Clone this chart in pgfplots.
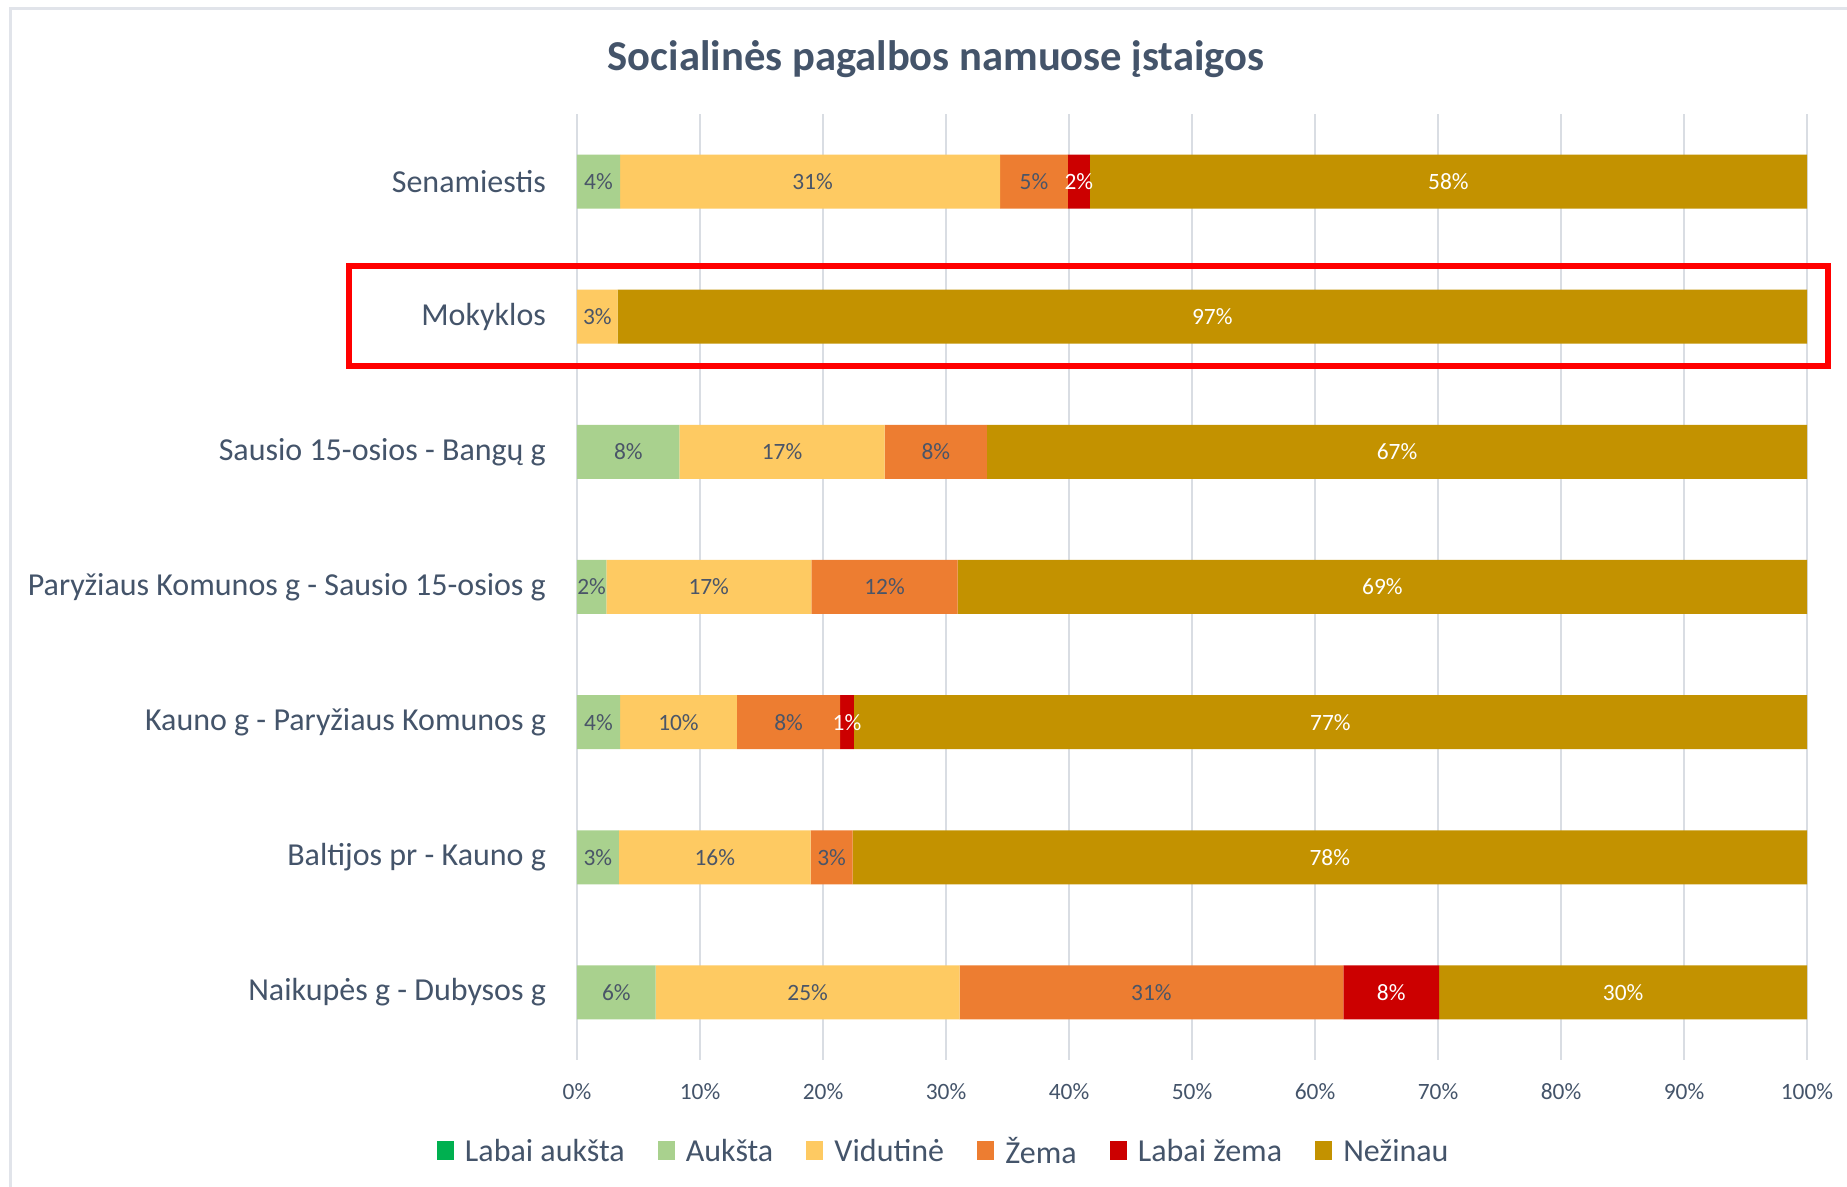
\documentclass[border=0pt]{standalone}
\usepackage{pgfplots}
\pgfplotsset{compat=1.18}
\usepackage{pgfplotstable}
\usepackage{fontspec}
\setmainfont{Carlito}
\definecolor{txt}{HTML}{44546A}
\definecolor{lbl}{HTML}{4A5568}
\definecolor{cGrid}{HTML}{D9DDE3}
\definecolor{cLA}{HTML}{00B050}
\definecolor{cA}{HTML}{A9D18E}
\definecolor{cV}{HTML}{FECA62}
\definecolor{cZ}{HTML}{ED7D31}
\definecolor{cLZ}{HTML}{CC0000}
\definecolor{cN}{HTML}{C39200}
\definecolor{cFrame}{HTML}{E1E4EA}

% y: 6 = Senamiestis (top) ... 0 = Naikupes (bottom)
\pgfplotstableread{
y  LA  A     V     Z     LZ   N
6  0   3.5   30.9  5.5   1.8  58.3
5  0   0     3.3   0     0    96.7
4  0   8.33  16.67 8.33  0    66.67
3  0   2.38  16.67 11.90 0    69.05
2  0   3.5   9.5   8.4   1.1  77.5
1  0   3.4   15.6  3.4   0    77.6
0  0   6.4   24.7  31.2  7.8  29.9
}\data

\tikzset{dl/.style={font=\fontsize{11.7}{14}\selectfont, text=lbl}, dw/.style={font=\fontsize{11.7}{14}\selectfont, text=white}}

\begin{document}
\begin{tikzpicture}[x=1pt,y=1pt]
\useasboundingbox (0,0) rectangle (923.5,593.5);
\fill[white] (0,0) rectangle (923.5,593.5);
\draw[cFrame, line width=1.5pt] (5,0) -- (5,589) -- (923.5,589);
\node[font=\fontsize{21.3}{25}\selectfont\bfseries, text=txt] at (468,563.7) {Socialinės pagalbos namuose įstaigos};
\begin{axis}[
  at={(288.5pt,63.5pt)}, anchor=south west,
  scale only axis, width=615pt, height=473pt,
  xbar stacked, bar width=27pt,
  xmin=0, xmax=100, ymin=-0.5, ymax=6.5,
  xtick={0,10,...,100},
  xticklabel={\pgfmathprintnumber{\tick}\%},
  xticklabel style={font=\fontsize{11.7}{14}\selectfont, text=txt, yshift=-8.4pt},
  /pgf/number format/assume math mode=true,
  ytick={0,...,6},
  yticklabels={Naikupės g - Dubysos g, Baltijos pr - Kauno g, Kauno g - Paryžiaus Komunos g, Paryžiaus Komunos g - Sausio 15-osios g, Sausio 15-osios - Bangų g, Mokyklos, Senamiestis},
  yticklabel style={font=\fontsize{16}{19}\selectfont, text=txt, xshift=-12pt},
  xmajorgrids, grid style={draw=cGrid, line width=1.2pt},
  axis line style={draw=none}, tick style={draw=none},
  legend columns=6,
  legend style={at={(0.299,-0.097)}, anchor=center, draw=none, fill=none,
    font=\fontsize{16}{19}\selectfont, text=txt,
    /tikz/every odd column/.append style={column sep=3.5pt},
    /tikz/every even column/.append style={column sep=14.6pt}},
  legend image code/.code={\fill[#1,draw=none] (0pt,-4.2pt) rectangle (8.5pt,5.5pt);},
  clip=false,
]
\addplot[fill=cLA, draw=none] table[x=LA, y=y] {\data};
\addlegendentry{Labai aukšta}
\addplot[fill=cA, draw=none] table[x=A, y=y] {\data};
\addlegendentry{Aukšta}
\addplot[fill=cV, draw=none] table[x=V, y=y] {\data};
\addlegendentry{Vidutinė}
\addplot[fill=cZ, draw=none] table[x=Z, y=y] {\data};
\addlegendentry{Žema}
\addplot[fill=cLZ, draw=none] table[x=LZ, y=y] {\data};
\addlegendentry{Labai žema}
\addplot[fill=cN, draw=none] table[x=N, y=y] {\data};
\addlegendentry{Nežinau}
\end{axis}
\begin{axis}[
  at={(288.5pt,63.5pt)}, anchor=south west,
  scale only axis, width=615pt, height=473pt,
  xmin=0, xmax=100, ymin=-0.5, ymax=6.5,
  hide axis, clip=false,
]
% Senamiestis
\node[dl] at (axis cs:1.75,6) {4\%};
\node[dl] at (axis cs:19.15,6) {31\%};
\node[dl] at (axis cs:37.15,6) {5\%};
\node[dw] at (axis cs:40.8,6) {2\%};
\node[dw] at (axis cs:70.85,6) {58\%};
% Mokyklos
\node[dl] at (axis cs:1.65,5) {3\%};
\node[dw] at (axis cs:51.65,5) {97\%};
% Sausio
\node[dl] at (axis cs:4.17,4) {8\%};
\node[dl] at (axis cs:16.67,4) {17\%};
\node[dl] at (axis cs:29.17,4) {8\%};
\node[dw] at (axis cs:66.67,4) {67\%};
% Paryziaus
\node[dl] at (axis cs:1.19,3) {2\%};
\node[dl] at (axis cs:10.71,3) {17\%};
\node[dl] at (axis cs:25.0,3) {12\%};
\node[dw] at (axis cs:65.48,3) {69\%};
% Kauno
\node[dl] at (axis cs:1.75,2) {4\%};
\node[dl] at (axis cs:8.25,2) {10\%};
\node[dl] at (axis cs:17.2,2) {8\%};
\node[dw] at (axis cs:21.95,2) {1\%};
\node[dw] at (axis cs:61.25,2) {77\%};
% Baltijos
\node[dl] at (axis cs:1.7,1) {3\%};
\node[dl] at (axis cs:11.2,1) {16\%};
\node[dl] at (axis cs:20.7,1) {3\%};
\node[dw] at (axis cs:61.2,1) {78\%};
% Naikupes
\node[dl] at (axis cs:3.2,0) {6\%};
\node[dl] at (axis cs:18.75,0) {25\%};
\node[dl] at (axis cs:46.7,0) {31\%};
\node[dw] at (axis cs:66.2,0) {8\%};
\node[dw] at (axis cs:85.05,0) {30\%};
\end{axis}
\draw[red, line width=3pt] (174.5,410.5) rectangle (914,460.5);
\end{tikzpicture}
\end{document}
